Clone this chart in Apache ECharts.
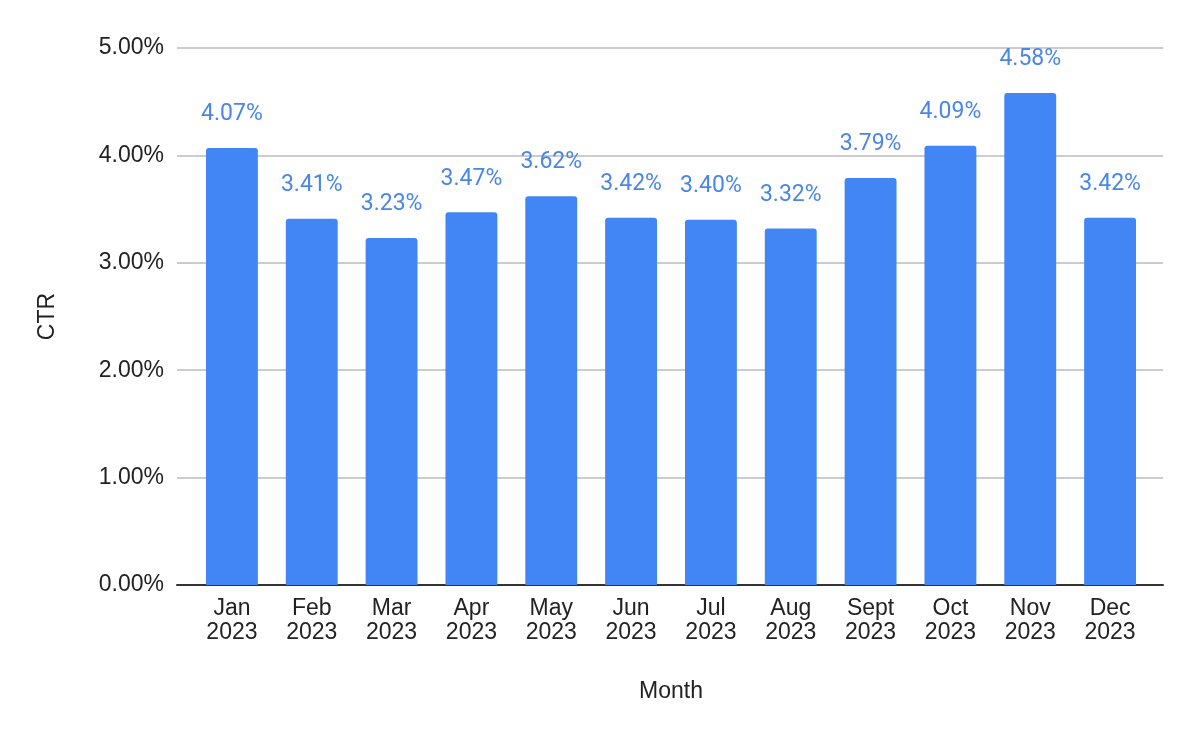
<!DOCTYPE html>
<html>
<head>
<meta charset="utf-8">
<script src="https://cdn.jsdelivr.net/npm/echarts@6/dist/echarts.min.js"></script>
<style>
  html, body { margin: 0; padding: 0; background: #fff; }
  #chart { width: 1200px; height: 742px; }
</style>
</head>
<body>
<div id="chart"></div>
<script>
// months on x axis
const months = ["Jan\n2023", "Feb\n2023", "Mar\n2023", "Apr\n2023", "May\n2023", "Jun\n2023",
  "Jul\n2023", "Aug\n2023", "Sept\n2023", "Oct\n2023", "Nov\n2023", "Dec\n2023"];
// CTR in percent
const ctr = [4.07, 3.41, 3.23, 3.47, 3.62, 3.42, 3.40, 3.32, 3.79, 4.09, 4.58, 3.42];

const axisFont = { color: "#222", fontSize: 23, fontFamily: "Liberation Sans" };

let myChart = echarts.init(document.getElementById("chart"));
let option = {
  animation: false,
  // grid 0: gridlines + axis line, grid 1: bars (inset a little like the original)
  grid: [
    { left: 177, right: 37, top: 48, bottom: 157 },
    { left: 192, right: 50, top: 48, bottom: 157 }
  ],
  xAxis: [
    {
      gridIndex: 0,
      type: "value",
      min: 0,
      max: 1,
      axisLine: { show: true, onZero: false, lineStyle: { color: "#333", width: 2 } },
      axisTick: { show: false },
      axisLabel: { show: false },
      splitLine: { show: false }
    },
    {
      gridIndex: 1,
      type: "category",
      data: months,
      name: "Month",
      nameLocation: "middle",
      nameGap: 95,
      nameTextStyle: axisFont,
      axisLine: { show: false },
      axisTick: { show: false },
      axisLabel: Object.assign({ lineHeight: 24, margin: 12, interval: 0 }, axisFont)
    }
  ],
  yAxis: [
    {
      gridIndex: 0,
      type: "value",
      min: 0,
      max: 5,
      interval: 1,
      name: "CTR",
      nameLocation: "middle",
      nameGap: 118,
      nameTextStyle: axisFont,
      axisLine: { show: false },
      axisTick: { show: false },
      axisLabel: Object.assign({ margin: 13, formatter: v => v.toFixed(2) + "%" }, axisFont),
      splitLine: { lineStyle: { color: "#ccc", width: 2 } }
    },
    {
      gridIndex: 1,
      type: "value",
      min: 0,
      max: 5,
      show: false
    }
  ],
  series: [
    {
      type: "bar",
      xAxisIndex: 1,
      yAxisIndex: 1,
      data: ctr,
      barWidth: "65%",
      itemStyle: { color: "#4285f4", borderRadius: [3, 3, 0, 0] },
      label: {
        show: true,
        position: "top",
        distance: 22,
        color: "#4a86e8",
        fontSize: 23,
        fontFamily: "Roboto",
        formatter: p => p.value.toFixed(2) + "%"
      }
    }
  ]
};
myChart.setOption(option);
</script>
</body>
</html>
